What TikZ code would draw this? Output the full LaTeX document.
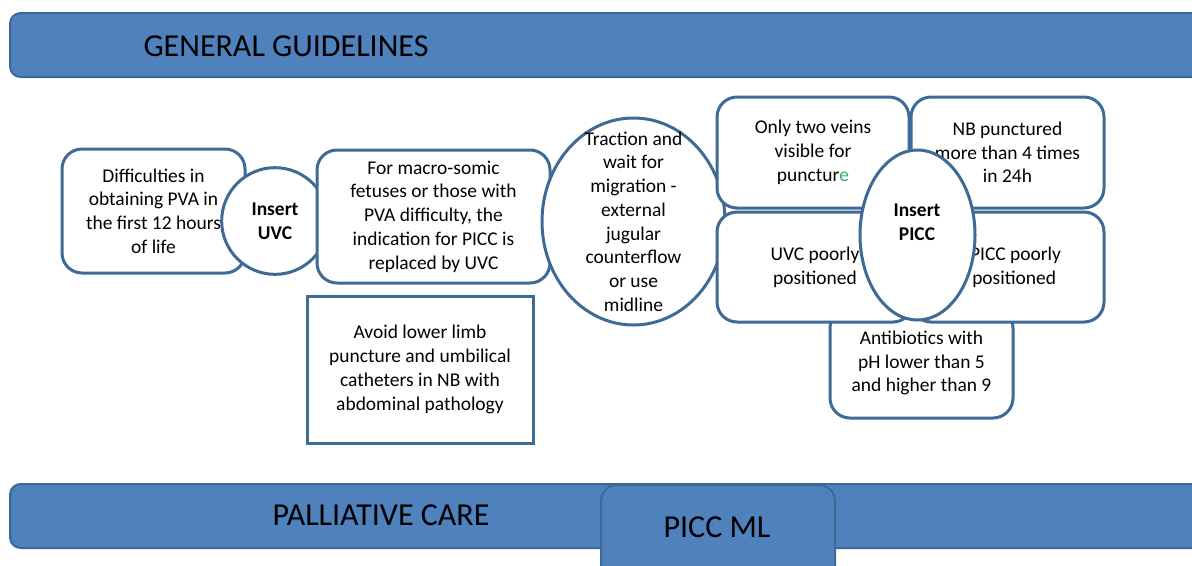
\documentclass[tikz,border=0pt]{standalone}
\usepackage{fontspec}
\setmainfont{Carlito}
\usetikzlibrary{shapes.geometric}
\definecolor{barblue}{RGB}{79,129,189}
\definecolor{bardark}{RGB}{60,104,152}
\definecolor{lineblue}{RGB}{62,106,150}
\definecolor{markgreen}{RGB}{46,178,98}

\begin{document}
\begin{tikzpicture}[x=0.75pt,y=-0.75pt,
txt/.style={align=center,inner sep=0pt,font={\fontsize{14.6}{17.8}\selectfont}},
boldtxt/.style={txt,font={\fontsize{14.6}{17.8}\selectfont\bfseries}},
bubble/.style={txt,draw=lineblue,line width=2.25pt,fill=white,rounded corners=15pt},
sqbox/.style={txt,draw=lineblue,line width=2.25pt,fill=white},
oval/.style={boldtxt,ellipse,draw=lineblue,line width=2.25pt,fill=white},
bar/.style={draw=bardark,line width=1.5pt,fill=barblue,rounded corners=8pt,minimum width=900pt,minimum height=48pt},
bartitle/.style={inner sep=0pt,font={\fontsize{24}{28}\selectfont}}]
\useasboundingbox (0,0) rectangle (1192,565);
\clip (0,0) rectangle (1192,565);

% top band
\node[bar] (genbar) at (610,45) {};
\node[bartitle] (gentitle) at (286,46) {GENERAL GUIDELINES};

% UVC side
\node[bubble,minimum width=137.25pt,minimum height=93pt] (diff) at (153.5,211)
  {Difficulties in\\obtaining PVA in\\the first 12 hours\\of life};
\node[oval,minimum width=80pt,minimum height=80pt] (uvc) at (275,221) {Insert\\UVC};
\node[bubble,minimum width=174.75pt,minimum height=99.75pt] (macro) at (433.5,216.5)
  {For macro-somic\\fetuses or those with\\PVA difficulty, the\\indication for PICC is\\replaced by UVC};
\node[sqbox,minimum width=169.5pt,minimum height=110.25pt] (avoid) at (420,369.5)
  {Avoid lower limb\\puncture and umbilical\\catheters in NB with\\abdominal pathology};
\node[oval,minimum width=137.25pt,minimum height=155.25pt] (trac) at (633.5,221.5) {};
\node[txt] (tractxt) at (trac)
  {Traction and\\wait for\\migration -\\external\\jugular\\counterflow\\or use\\midline};

% PICC side
\node[bubble,minimum width=137.25pt,minimum height=82.5pt] (abx) at (921.5,363)
  {Antibiotics with\\pH lower than 5\\and higher than 9};
\node[bubble,minimum width=144pt,minimum height=83.25pt] (veins) at (813,152.5)
  {Only two veins\\visible for\\punctur\textcolor{markgreen}{e}};
\node[bubble,minimum width=144.75pt,minimum height=83.25pt] (nbpunct) at (1007.5,152.5)
  {NB punctured\\more than 4 times\\in 24h};
\node[bubble,minimum width=147pt,minimum height=82.5pt] (uvcpos) at (815,267)
  {UVC poorly\\positioned};
\node[bubble,minimum width=144.75pt,minimum height=82.5pt] (piccpos) at (1007.5,267)
  {\hspace*{12pt}PICC poorly\\\hspace*{10pt}positioned};
\node[oval,minimum width=86.25pt,minimum height=127.5pt] (picc) at (917.5,235) {};
\node[boldtxt] (picctxt) at (917,222) {Insert\\PICC};

% bottom band
\node[bar] (palbar) at (610,516) {};
\node[bartitle] (paltitle) at (381,515) {PALLIATIVE CARE};
\node[draw=lineblue,line width=1.5pt,fill=barblue,rounded corners=12pt,
  minimum width=175.5pt,minimum height=90pt] (piccml) at (718,545) {};
\node[bartitle] (mltitle) at (717,527) {PICC ML};
\end{tikzpicture}
\end{document}
